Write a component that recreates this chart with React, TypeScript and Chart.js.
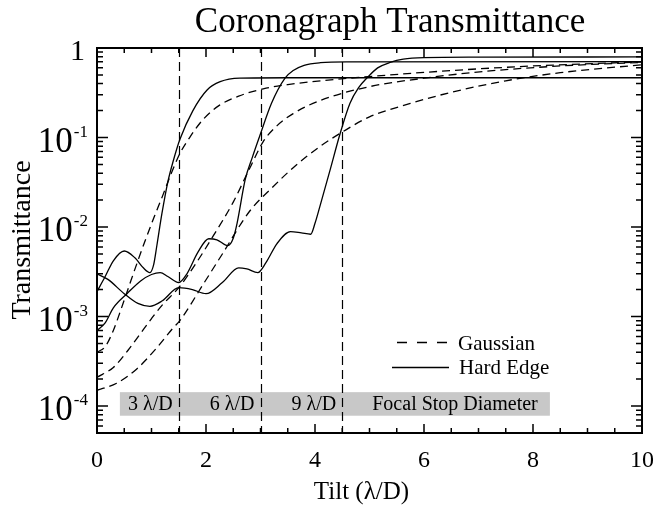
import React, { useEffect, useRef } from 'react';
import { Chart, registerables } from 'chart.js';

Chart.register(...registerables);

const FONT = "'Liberation Serif', 'Times New Roman', serif";

// ---------- data ----------
const titleText = 'Coronagraph Transmittance';
const xTitle = 'Tilt (λ/D)';
const yTitle = 'Transmittance';
const xTickValues = [0, 2, 4, 6, 8, 10];
const yDecades = [-4, -3, -2, -1, 0];
const stopRadii = [1.5, 3.0, 4.5];
const stopLabels = ['3 λ/D', '6 λ/D', '9 λ/D'];
const bandLabel = 'Focal Stop Diameter';
const legendLabels = ['Gaussian', 'Hard Edge'];

// Gaussian focal stops (dashed)
const g3X = [0, 0.15, 0.3, 0.45, 0.6, 0.75, 0.9, 1.05, 1.2, 1.35, 1.52, 1.7, 1.95, 2.25, 2.6, 3.05, 3.5, 4.1, 5, 6.5, 8, 10];
const g3Y = [4.0e-4, 4.6e-4, 7.0e-4, 1.25e-3, 2.3e-3, 4.2e-3, 7.5e-3, 0.013, 0.022, 0.038, 0.066, 0.1, 0.16, 0.23, 0.29, 0.35, 0.39, 0.43, 0.48, 0.56, 0.63, 0.70];

const g6X = [0, 0.3, 0.57, 0.8, 1.0, 1.2, 1.5, 1.8, 2.13, 2.5, 2.8, 3.05, 3.3, 3.6, 4.1, 5, 6, 7.15, 8.5, 10];
const g6Y = [2.1e-4, 2.7e-4, 4.2e-4, 6.5e-4, 9.5e-4, 1.35e-3, 2.1e-3, 3.8e-3, 7.9e-3, 0.019, 0.045, 0.09, 0.135, 0.185, 0.26, 0.37, 0.46, 0.55, 0.63, 0.69];

const g9X = [0, 0.36, 0.73, 1.1, 1.4, 1.52, 1.95, 2.3, 2.8, 3.2, 3.6, 4.1, 4.5, 5, 5.75, 6.5, 7.5, 8.5, 10];
const g9Y = [1.5e-4, 1.8e-4, 2.6e-4, 4.5e-4, 7.5e-4, 9.0e-4, 2.3e-3, 5.0e-3, 0.015, 0.027, 0.046, 0.08, 0.115, 0.17, 0.24, 0.32, 0.43, 0.53, 0.65];

// Hard-edge focal stops (solid)
const h3X = [0, 0.15, 0.3, 0.5, 0.7, 0.85, 0.97, 1.04, 1.1, 1.19, 1.3, 1.4, 1.52, 1.76, 2.02, 2.26, 2.62, 3.5, 10];
const h3Y = [1.9e-3, 2.8e-3, 4.2e-3, 5.4e-3, 4.5e-3, 3.5e-3, 3.1e-3, 3.8e-3, 6.3e-3, 0.014, 0.032, 0.055, 0.095, 0.2, 0.34, 0.42, 0.46, 0.465, 0.465];

const h6X = [0, 0.15, 0.3, 0.55, 0.8, 1.0, 1.16, 1.3, 1.5, 1.65, 1.85, 2.05, 2.2, 2.4, 2.5, 2.57, 2.72, 2.85, 3.0, 3.2, 3.45, 3.6, 3.8, 4.1, 4.6, 10];
const h6Y = [7.0e-4, 8.5e-4, 1.25e-3, 1.8e-3, 2.5e-3, 2.95e-3, 3.1e-3, 2.8e-3, 2.4e-3, 3.0e-3, 5.2e-3, 7.4e-3, 7.2e-3, 6.2e-3, 7.5e-3, 0.011, 0.034, 0.06, 0.11, 0.24, 0.46, 0.56, 0.64, 0.685, 0.70, 0.705];

const h9X = [0, 0.2, 0.5, 0.75, 0.97, 1.2, 1.5, 1.75, 2.0, 2.3, 2.6, 2.75, 2.95, 3.1, 3.3, 3.55, 3.75, 3.92, 4.0, 4.09, 4.28, 4.46, 4.64, 4.8, 4.95, 5.15, 5.38, 5.62, 6.0, 7.0, 10];
const h9Y = [3.0e-3, 2.6e-3, 1.8e-3, 1.4e-3, 1.3e-3, 1.5e-3, 2.1e-3, 2.0e-3, 1.8e-3, 2.4e-3, 3.5e-3, 3.4e-3, 3.1e-3, 4.0e-3, 6.5e-3, 8.9e-3, 8.6e-3, 8.3e-3, 0.011, 0.017, 0.044, 0.11, 0.24, 0.36, 0.46, 0.6, 0.69, 0.75, 0.78, 0.79, 0.795];

const pts = (xs: number[], ys: number[]) => xs.map((x, i) => ({ x, y: ys[i] }));

const overlay = {
  id: 'overlay',
  beforeDatasetsDraw(chart: any) {
    const { ctx, chartArea: a, scales } = chart;
    const xs = scales.x, ys = scales.y;
    ctx.save();
    // gray band
    const bx0 = xs.getPixelForValue(0.42), bx1 = xs.getPixelForValue(8.31);
    const by0 = ys.getPixelForValue(1.43e-4), by1 = ys.getPixelForValue(7.8e-5);
    ctx.fillStyle = '#c8c8c8';
    ctx.fillRect(bx0, by0, bx1 - bx0, by1 - by0);
    const bmid = (by0 + by1) / 2;
    ctx.fillStyle = '#000';
    ctx.font = `20px ${FONT}`;
    ctx.textBaseline = 'middle';
    ctx.textAlign = 'right';
    stopRadii.forEach((r, i) => {
      ctx.fillText(stopLabels[i], xs.getPixelForValue(r) - 6, bmid + 1);
    });
    ctx.textAlign = 'left';
    ctx.fillText(bandLabel, xs.getPixelForValue(stopRadii[2]) + 30, bmid + 1);
    // vertical dashed stop lines
    ctx.strokeStyle = '#000';
    ctx.lineWidth = 1.2;
    ctx.setLineDash([9, 5]);
    stopRadii.forEach((r) => {
      const px = Math.round(xs.getPixelForValue(r)) + 0.5;
      ctx.beginPath();
      ctx.moveTo(px, a.top);
      ctx.lineTo(px, a.bottom);
      ctx.stroke();
    });
    ctx.restore();
  },
  afterDraw(chart: any) {
    const { ctx, chartArea: a, scales } = chart;
    const xs = scales.x, ys = scales.y;
    ctx.save();
    ctx.strokeStyle = '#000';
    ctx.fillStyle = '#000';
    ctx.setLineDash([]);
    // frame
    ctx.lineWidth = 2;
    ctx.strokeRect(a.left, a.top, a.right - a.left, a.bottom - a.top);
    // x ticks
    ctx.lineWidth = 1.5;
    for (let v = 0; v <= 10.001; v += 0.5) {
      const px = xs.getPixelForValue(v);
      const major = Math.abs(v / 2 - Math.round(v / 2)) < 1e-6;
      const len = major ? 9 : 5;
      ctx.beginPath();
      ctx.moveTo(px, a.bottom); ctx.lineTo(px, a.bottom - len);
      ctx.moveTo(px, a.top); ctx.lineTo(px, a.top + len);
      ctx.stroke();
    }
    // y ticks
    for (let d = -5; d <= 0; d++) {
      for (let m = 1; m <= 9; m++) {
        const v = m * Math.pow(10, d);
        if (v < 5e-5 - 1e-12 || v > 1 + 1e-9) continue;
        const py = ys.getPixelForValue(v);
        const len = m === 1 ? 11 : 6;
        ctx.beginPath();
        ctx.moveTo(a.left, py); ctx.lineTo(a.left + len, py);
        ctx.moveTo(a.right, py); ctx.lineTo(a.right - len, py);
        ctx.stroke();
      }
    }
    // x tick labels
    ctx.font = `24px ${FONT}`;
    ctx.textAlign = 'center';
    ctx.textBaseline = 'alphabetic';
    xTickValues.forEach((v) => {
      ctx.fillText(String(v), xs.getPixelForValue(v), 467);
    });
    // y tick labels
    yDecades.forEach((k) => {
      const py = ys.getPixelForValue(Math.pow(10, k));
      ctx.textAlign = 'right';
      if (k === 0) {
        ctx.font = `30px ${FONT}`;
        ctx.fillText('1', 85, py + 12);
      } else {
        const sup = '-' + String(-k);
        ctx.font = `17px ${FONT}`;
        const sw = ctx.measureText(sup).width;
        ctx.fillText(sup, 88, py - 1);
        ctx.font = `35px ${FONT}`;
        ctx.fillText('10', 88 - sw - 1, py + 14);
      }
    });
    // axis titles
    ctx.textAlign = 'center';
    ctx.font = `25px ${FONT}`;
    ctx.fillText(xTitle, (a.left + a.right) / 2 - 8, 499);
    ctx.save();
    ctx.translate(30, 240);
    ctx.rotate(-Math.PI / 2);
    ctx.font = `28px ${FONT}`;
    ctx.fillText(yTitle, 0, 0);
    ctx.restore();
    // title
    ctx.font = `35px ${FONT}`;
    ctx.fillText(titleText, 390, 32);
    // legend
    ctx.lineWidth = 1.3;
    ctx.setLineDash([10, 10]);
    ctx.beginPath(); ctx.moveTo(397, 342.5); ctx.lineTo(450, 342.5); ctx.stroke();
    ctx.setLineDash([]);
    ctx.beginPath(); ctx.moveTo(392, 367.5); ctx.lineTo(449, 367.5); ctx.stroke();
    ctx.textAlign = 'left';
    ctx.font = `21px ${FONT}`;
    ctx.fillText(legendLabels[0], 458, 350);
    ctx.fillText(legendLabels[1], 459, 374);
    ctx.restore();
  },
};

export default function App() {
  const ref = useRef<HTMLCanvasElement>(null);
  useEffect(() => {
    document.body.style.margin = '0';
    const dashed = { borderColor: '#000', borderWidth: 1.3, borderDash: [8, 5], pointRadius: 0, fill: false };
    const solid = { borderColor: '#000', borderWidth: 1.3, pointRadius: 0, fill: false };
    const chart = new Chart(ref.current!, {
      type: 'line',
      data: {
        datasets: [
          { label: 'Gaussian 3 λ/D', data: pts(g3X, g3Y), ...dashed },
          { label: 'Gaussian 6 λ/D', data: pts(g6X, g6Y), ...dashed },
          { label: 'Gaussian 9 λ/D', data: pts(g9X, g9Y), ...dashed },
          { label: 'Hard Edge 3 λ/D', data: pts(h3X, h3Y), ...solid },
          { label: 'Hard Edge 6 λ/D', data: pts(h6X, h6Y), ...solid },
          { label: 'Hard Edge 9 λ/D', data: pts(h9X, h9Y), ...solid },
        ] as any,
      },
      options: {
        responsive: false,
        animation: false,
        devicePixelRatio: 1,
        layout: { padding: { left: 97, right: 11, top: 48, bottom: 73 } },
        plugins: { legend: { display: false }, title: { display: false }, tooltip: { enabled: false } },
        elements: { line: { cubicInterpolationMode: 'monotone' }, point: { radius: 0 } },
        scales: {
          x: { type: 'linear', min: 0, max: 10, display: false },
          y: { type: 'logarithmic', min: 5e-5, max: 1, display: false },
        },
      } as any,
      plugins: [overlay],
    });
    return () => chart.destroy();
  }, []);
  return (
    <div style={{ position: 'fixed', left: 0, top: 0, width: 653, height: 506, background: '#fff' }}>
      <canvas ref={ref} width={653} height={506} style={{ display: 'block' }} />
    </div>
  );
}
